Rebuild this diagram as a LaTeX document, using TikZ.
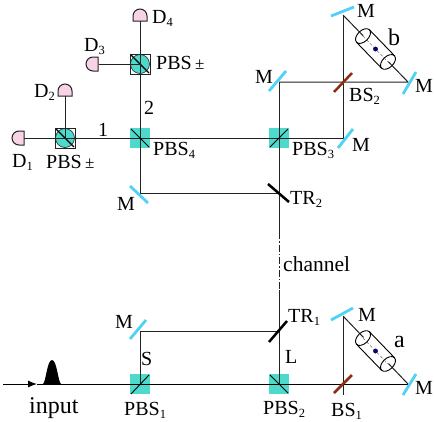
\documentclass[tikz,border=0pt]{standalone}
\usepackage{fontspec}
\setmainfont{Liberation Serif}
\usetikzlibrary{calc,arrows.meta}
\definecolor{teal1}{HTML}{4DD9CC}
\definecolor{mir}{HTML}{4FD2F5}
\definecolor{brn}{HTML}{8B2E12}
\definecolor{det}{HTML}{F7D3E6}
\definecolor{ln}{HTML}{222222}
\tikzset{
 beam/.style={line width=1pt,draw=ln},
 lab/.style={inner sep=0pt,anchor=base west,font=\fontsize{20}{20}\selectfont},
 cube/.style={fill=teal1,draw=none,minimum size=20pt,inner sep=0pt,shape=rectangle},
 mirror/.style={line width=2.8pt,draw=mir},
 bsp/.style={line width=2.5pt,draw=brn},
 trs/.style={line width=2.5pt,draw=black},
 split/.style={line width=0.9pt,draw=black},
 detbody/.style={fill=det,draw=ln,line width=1pt},
 cyl/.style={draw=black,line width=0.9pt},
}
\newcommand{\sbs}[1]{\raisebox{-3pt}{\fontsize{12.5}{12.5}\selectfont #1}}
\newcommand{\polbox}[2]{%
 \node[cube,draw=ln,line width=0.8pt,fill=white] (#1) at (#2) {};
 \fill[teal1,draw=ln,line width=0.6pt] (#2) circle (9.5);
 \draw[line width=1.3pt,black] ($(#2)+(-9,-9)$) -- ($(#2)+(9,9)$);
}
\newcommand{\cellbody}[1]{%
 \begin{scope}[shift={(#1)},rotate=-46]
  \fill[white] (-18,-9) rectangle (18,9);
  \draw[cyl] (-18,-9) -- (18,-9) (-18,9) -- (18,9);
  \draw[cyl] (-18,0) ellipse (5.5 and 9);
  \draw[cyl] (18,0) ellipse (5.5 and 9);
  \draw[line width=0.4pt,densely dashed,black!70] (-18,0) -- (18,0);
  \fill[blue!60!black,draw=black,line width=0.3pt] (0,0) circle (2.2);
 \end{scope}
}
\begin{document}
\begin{tikzpicture}[x=1pt,y=-1pt]
\useasboundingbox (0,0) rectangle (436,421);
% points
\coordinate (D1p) at (24,138); \coordinate (D2p) at (65,96);
\coordinate (D3p) at (99,64); \coordinate (D4p) at (140,21);
\coordinate (P4) at (140,138); \coordinate (P3) at (279,138);
\coordinate (PL) at (65,138); \coordinate (PU) at (140,64);
\coordinate (M4) at (140,193); \coordinate (TR2) at (279,193);
\coordinate (M5) at (279,82); \coordinate (BS2) at (343,82);
\coordinate (M6) at (343,138); \coordinate (M7) at (343,15);
\coordinate (M8) at (408,82);
\coordinate (chA) at (279,232); \coordinate (chB) at (279,290);
\coordinate (TR1) at (279,331); \coordinate (M1) at (140,331);
\coordinate (P1) at (140,384); \coordinate (P2) at (279,384);
\coordinate (BS1) at (343,384); \coordinate (M2) at (343,316);
\coordinate (M3) at (408,384); \coordinate (in) at (3,384);
\coordinate (inA) at (37,384); \coordinate (BS1e) at (343,395);
% cubes
\node[cube] (c4) at (P4) {}; \node[cube] (c3) at (P3) {};
\node[cube] (c1) at (P1) {}; \node[cube] (c2) at (P2) {};
\polbox{pl}{PL} \polbox{pu}{PU}
% beams
\draw[beam] (D1p) -- (M6) -- (M7);
\draw[beam] (D4p) -- (M4) -- (TR2);
\draw[beam] (PL) -- (D2p);
\draw[beam] (D3p) -- (PU);
\draw[beam] (M5) -- (chA);
\draw[beam,dash pattern=on 7pt off 2pt on 1.5pt off 2pt] (chA) -- (chB);
\draw[beam] (chB) -- (P2);
\draw[beam] (M5) -- (M8) -- (M7);
\draw[beam] (M1) -- (TR1);
\draw[beam] (M1) -- (P1);
\draw[beam] (M2) -- (BS1e);
\draw[beam] (M3) -- (M2);
\draw[line width=1pt,black,-{Latex[length=9pt,width=7pt]}] (in) -- (inA);
\draw[line width=1pt,black] (inA) -- (M3);
\fill[black] (43,384) .. controls (46,382) and (47,360) .. (52,360) .. controls (57,360) and (58,382) .. (61,384) -- cycle;
% splitters
\draw[split] (131,129) -- (149,147);
\draw[split] (270,147) -- (288,129);
\draw[split] (131,394) -- (149,375);
\draw[split] (270,375) -- (288,393);
\foreach \a/\b/\c/\d in {130/186/148/203,269/91/286/71,331/16/354/7,403/94/416/72,338/148/353/129,130/339/146/320,331/320/353/308,403/395/416/374}
  \draw[mirror] (\a,\b) -- (\c,\d);
\draw[bsp] (334,92) -- (352,73);
\draw[bsp] (334,393) -- (352,375);
\draw[trs] (268,184) -- (289,202);
\draw[trs] (269,342) -- (287,321);
\cellbody{375.5,49}
\cellbody{375.5,351}
% detectors
\draw[detbody] (24,131) -- (24,145) -- (19,145) arc (90:270:7) -- cycle;
\draw[detbody] (58,96) -- (72,96) -- (72,91) arc (0:-180:7) -- cycle;
\draw[detbody] (98,57) -- (98,71) -- (93,71) arc (90:270:7) -- cycle;
\draw[detbody] (133,21) -- (147,21) -- (147,16) arc (0:-180:7) -- cycle;
% labels
\node[lab] (lD4) at (152,23) {D\sbs{4}};
\node[lab] (lD3) at (84,51) {D\sbs{3}};
\node[lab] (lD2) at (34,97) {D\sbs{2}};
\node[lab] (lD1) at (12,167) {D\sbs{1}};
\node[lab] (lPU) at (156,69) {PBS\,{\fontsize{17}{17}\selectfont ±}};
\node[lab] (lPL) at (46,168) {PBS\,{\fontsize{17}{17}\selectfont ±}};
\node[lab] (l2) at (144,114) {2};
\node[lab] (l1) at (98,136) {1};
\node[lab] (lP4) at (153,155) {PBS\sbs{4}};
\node[lab] (lM4) at (117,210) {M};
\node[lab] (lM7) at (357,17) {M};
\node[lab,font=\fontsize{24}{24}\selectfont] (lb) at (388,45) {b};
\node[lab] (lM8) at (415,92) {M};
\node[lab] (lM5) at (255,83) {M};
\node[lab] (lB2) at (349,101) {BS\sbs{2}};
\node[lab] (lM6) at (352,151) {M};
\node[lab] (lP3) at (292,155) {PBS\sbs{3}};
\node[lab] (lT2) at (290,204) {TR\sbs{2}};
\node[lab,font=\fontsize{21.5}{21.5}\selectfont] (lch) at (283,271) {channel};
\node[lab] (lT1) at (288,322) {TR\sbs{1}};
\node[lab] (lM2) at (358,321) {M};
\node[lab,font=\fontsize{24}{24}\selectfont] (la) at (394,347) {a};
\node[lab] (lL) at (285,363) {L};
\node[lab] (lM3) at (415,394) {M};
\node[lab] (lP2) at (263,414) {PBS\sbs{2}};
\node[lab] (lB1) at (331,416) {BS\sbs{1}};
\node[lab] (lP1) at (124,415) {PBS\sbs{1}};
\node[lab] (lS) at (141,365) {S};
\node[lab] (lM1) at (115,328) {M};
\node[lab,font=\fontsize{24}{24}\selectfont] (lin) at (29,413) {input};
\end{tikzpicture}
\end{document}
